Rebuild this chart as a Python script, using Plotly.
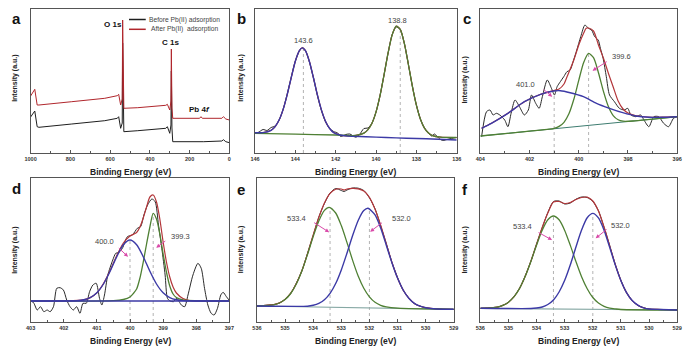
import plotly.graph_objects as go

W, H = 693, 355
FONT = "Liberation Sans, Arial, Helvetica, sans-serif"

# ---------------- Panel a: survey spectra ----------------
a_be_before = [1000, 992, 979, 967, 958, 793, 627, 564, 557, 547, 539, 537, 535, 531, 461, 320, 312, 300, 294, 292, 289, 285, 129, 38, 30, 18, 0]
a_int_before = [36, 38, 42, 26.3, 25.7, 29, 32.3, 34.7, 36.3, 24.7, 30, 110, 40, 21.3, 22.3, 24.7, 26.3, 19.7, 28, 82, 25, 11.3, 11.3, 12, 13.3, 11.3, 10.3]
a_be_after = [1000, 992, 979, 967, 958, 793, 627, 564, 557, 547, 539, 537, 535, 531, 461, 320, 312, 300, 294, 292, 289, 285, 150, 143, 136, 38, 30, 18, 0]
a_int_after = [57, 59.7, 63.7, 48, 48, 51.3, 54.7, 57.3, 58.7, 48, 54, 133, 62, 44.7, 45.3, 47.7, 48.7, 43, 52, 104, 45, 34.7, 34.7, 36.3, 34.7, 34.7, 36.3, 34, 33]
a_peak_names = ["<b>O 1s</b>", "<b>C 1s</b>", "<b>Pb 4<i>f</i></b>"]
a_peak_x = [585, 295, 150]
a_peak_y = [128, 110, 43]
a_legend = ["Before Pb(II) adsorption", "After Pb(II)  adsorption"]

# ---------------- Panel b: Pb 4f ----------------
b_blue_x = [146.0, 145.6, 145.2, 145.0, 144.8, 144.6, 144.4, 144.2, 144.0, 143.8, 143.65, 143.5, 143.3, 143.1, 142.9, 142.7, 142.5, 142.3, 142.1, 141.8, 141.4, 140.5, 139.5, 138.5, 137.5, 136.0]
b_blue_y = [20.3, 20.4, 22.7, 26.4, 33.2, 43.9, 58.7, 75.7, 91.8, 102.4, 105.1, 102.3, 91.3, 75.0, 57.6, 42.6, 31.5, 24.5, 20.4, 18.0, 16.9, 16.3, 15.5, 14.8, 14.2, 13.0]
b_green_x = [146.0, 144.0, 142.0, 141.0, 140.6, 140.4, 140.2, 140.0, 139.8, 139.6, 139.4, 139.2, 139.0, 138.8, 138.6, 138.4, 138.2, 138.0, 137.8, 137.6, 137.4, 137.2, 136.8, 136.0]
b_green_y = [19.7, 18.9, 18.0, 17.6, 19.9, 23.3, 29.8, 41.1, 57.6, 78.4, 100.3, 118.1, 126.8, 123.7, 109.8, 89.0, 66.9, 47.8, 33.8, 24.9, 20.0, 17.4, 15.8, 15.5]
b_red_x = [146.0, 145.6, 145.2, 145.0, 144.8, 144.6, 144.4, 144.2, 144.0, 143.8, 143.65, 143.5, 143.3, 143.1, 142.9, 142.7, 142.5, 142.3, 142.1, 141.8, 141.4, 141.0, 140.6, 140.4, 140.2, 140.0, 139.8, 139.6, 139.4, 139.2, 139.0, 138.8, 138.6, 138.4, 138.2, 138.0, 137.8, 137.6, 137.4, 137.2, 136.8, 136.0]
b_red_y = [20.3, 20.4, 22.7, 26.4, 33.2, 43.9, 58.7, 75.7, 91.8, 102.4, 105.1, 102.3, 91.3, 75.0, 57.6, 42.6, 31.5, 24.5, 20.4, 18.0, 17.0, 17.6, 19.9, 23.3, 29.8, 41.1, 57.6, 78.4, 100.3, 118.1, 126.8, 123.7, 109.8, 89.0, 66.9, 47.8, 33.8, 24.9, 20.0, 17.4, 15.8, 15.5]
b_raw_x = [146.0, 145.85, 145.6, 145.4, 145.2, 145.0, 144.8, 144.6, 144.4, 144.2, 144.0, 143.8, 143.65, 143.5, 143.3, 143.1, 142.9, 142.7, 142.5, 142.3, 142.1, 141.9, 141.75, 141.5, 141.3, 141.0, 140.8, 140.6, 140.4, 140.2, 140.0, 139.8, 139.6, 139.4, 139.2, 139.0, 138.8, 138.6, 138.4, 138.2, 138.0, 137.8, 137.6, 137.4, 137.25, 137.1, 136.9, 136.7, 136.4, 136.0]
b_raw_y = [20.5, 20.5, 23.5, 22.5, 25.5, 27.0, 33.0, 44.0, 59.0, 76.0, 92.0, 102.0, 105.5, 102.5, 91.0, 75.0, 57.0, 42.0, 31.0, 24.5, 21.5, 20.0, 16.5, 18.5, 19.0, 15.8, 19.0, 24.5, 25.0, 30.0, 41.0, 57.5, 78.5, 100.0, 118.5, 126.0, 123.5, 110.0, 89.0, 67.0, 48.0, 34.0, 25.0, 20.0, 17.0, 19.0, 15.0, 12.5, 14.0, 15.5]
b_ref_x = [143.6, 138.8]
b_ref_top = [105, 126]
b_lab = ["143.6", "138.8"]
b_lab_x = [143.62, 138.93]
b_lab_y = [112.3, 132]

# ---------------- Panel c: N 1s before ----------------
c_base_x = [404.0, 396.0]
c_base_y = [17.0, 36.3]
c_green_x = [404.0, 402.0, 401.2, 401.0, 400.8, 400.6, 400.4, 400.2, 400.0, 399.8, 399.6, 399.4, 399.2, 399.0, 398.8, 398.6, 398.4, 398.2, 397.8, 396.0]
c_green_y = [17.0, 21.8, 23.8, 24.7, 26.6, 30.7, 39.2, 53.7, 72.7, 90.5, 99.6, 95.3, 80.3, 61.9, 46.7, 37.4, 33.2, 31.8, 32.0, 36.3]
c_blue_x = [403.95, 403.55, 402.88, 402.21, 401.55, 401.01, 400.75, 400.35, 399.81, 399.28, 398.75, 398.21, 397.68, 397.15, 396.61, 396.01]
c_blue_y = [24.7, 29.7, 39.7, 51.3, 58.7, 62.0, 62.3, 60.3, 56.3, 49.7, 44.7, 40.3, 37.0, 35.7, 35.7, 36.3]
c_red_x = [403.95, 403.55, 402.88, 402.21, 401.55, 401.01, 400.8, 400.6, 400.48, 400.2, 400.0, 399.8, 399.7, 399.6, 399.4, 399.2, 399.0, 398.8, 398.6, 398.4, 398.2, 398.0, 397.7, 397.2, 396.6, 396.01]
c_red_y = [24.7, 29.7, 39.7, 51.3, 58.7, 62.5, 64.0, 69.0, 76.0, 93.0, 108.0, 120.0, 124.7, 125.0, 122.0, 108.0, 95.0, 80.0, 66.0, 52.0, 44.0, 40.0, 37.5, 36.0, 35.8, 36.3]
c_raw_x = [403.95, 403.75, 403.61, 403.48, 403.35, 403.21, 403.01, 402.88, 402.75, 402.59, 402.41, 402.21, 402.05, 401.92, 401.75, 401.61, 401.48, 401.28, 401.11, 400.99, 400.88, 400.75, 400.61, 400.48, 400.35, 400.21, 400.08, 399.92, 399.75, 399.61, 399.48, 399.35, 399.21, 399.12, 399.01, 398.88, 398.75, 398.55, 398.35, 398.15, 398.01, 397.88, 397.68, 397.48, 397.35, 397.15, 396.95, 396.75, 396.55, 396.35, 396.15, 396.01]
c_raw_y = [16.3, 41.3, 43.0, 38.0, 39.7, 38.0, 33.0, 26.3, 39.7, 53.0, 46.3, 38.0, 43.0, 58.0, 49.7, 44.7, 56.3, 73.0, 64.7, 58.0, 66.3, 71.3, 76.3, 81.3, 83.0, 93.0, 103.0, 116.3, 128.0, 124.7, 123.0, 116.3, 113.0, 104.7, 94.7, 76.3, 58.0, 51.3, 44.7, 43.0, 44.7, 38.0, 36.3, 38.0, 33.0, 26.3, 36.3, 36.3, 29.7, 26.3, 34.7, 36.3]
c_ref_x = [401.0, 399.6]
c_ref_top = [60, 99.6]
c_lab = ["401.0", "399.6"]
c_lab_x = [402.15, 398.28]
c_lab_y = [68, 96.3]
c_arrow_x = [401.08, 399.44]
c_arrow_y = [56.3, 82.3]
c_arrow_dx = [-10, 15.7]
c_arrow_dy = [-8.4, -10]

# ---------------- Panel d: N 1s after ----------------
d_base_x = [403.0, 397.0]
d_base_y = [21.0, 21.0]
d_blue_x = [403.0, 402.0, 401.8, 401.6, 401.4, 401.2, 401.0, 400.8, 400.6, 400.4, 400.2, 400.0, 399.8, 399.6, 399.4, 399.2, 399.0, 398.8, 398.6, 398.4, 398.2, 398.0, 397.0]
d_blue_y = [21.0, 21.0, 21.1, 21.4, 22.2, 24.4, 29.2, 38.0, 50.7, 65.3, 77.3, 82.0, 77.3, 65.3, 50.7, 38.0, 29.2, 24.4, 22.2, 21.4, 21.1, 21.0, 21.0]
d_green_x = [403.0, 400.5, 400.2, 400.0, 399.9, 399.8, 399.7, 399.6, 399.5, 399.4, 399.3, 399.2, 399.1, 399.0, 398.9, 398.8, 398.7, 398.6, 398.4, 398.0, 397.0]
d_green_y = [21.0, 21.3, 22.5, 25.0, 28.5, 33.0, 44.0, 60.0, 78.0, 95.0, 108.7, 103.0, 88.0, 68.0, 50.0, 36.0, 28.0, 24.5, 22.0, 21.2, 21.0]
d_red_x = [403.0, 401.4, 401.2, 401.0, 400.8, 400.6, 400.4, 400.2, 400.0, 399.8, 399.7, 399.6, 399.5, 399.4, 399.3, 399.2, 399.1, 399.0, 398.9, 398.8, 398.7, 398.6, 398.4, 398.2, 398.0, 397.0]
d_red_y = [21.0, 22.2, 24.4, 29.2, 38.5, 51.5, 66.5, 79.0, 86.0, 89.5, 95.0, 104.0, 115.0, 125.0, 127.0, 120.0, 103.0, 80.0, 60.0, 45.0, 35.0, 29.0, 23.5, 21.5, 21.0, 21.0]
d_raw_x = [403.0, 402.9, 402.8, 402.7, 402.6, 402.5, 402.41, 402.31, 402.21, 402.11, 402.01, 401.91, 401.81, 401.71, 401.61, 401.51, 401.42, 401.32, 401.22, 401.12, 401.02, 400.92, 400.85, 400.77, 400.67, 400.52, 400.43, 400.33, 400.23, 400.08, 399.93, 399.78, 399.68, 399.58, 399.47, 399.34, 399.24, 399.14, 399.04, 398.94, 398.87, 398.79, 398.69, 398.59, 398.45, 398.35, 398.25, 398.10, 397.95, 397.85, 397.75, 397.65, 397.55, 397.46, 397.36, 397.26, 397.19, 397.09, 397.01]
d_raw_y = [22.0, 18.7, 12.0, 15.3, 10.3, 12.0, 10.3, 15.3, 33.7, 34.3, 32.0, 22.0, 15.3, 12.0, 15.3, 8.7, 18.7, 18.7, 30.3, 37.0, 38.7, 23.7, 17.0, 27.0, 47.0, 62.0, 68.7, 69.7, 73.7, 85.3, 87.0, 93.7, 95.3, 107.0, 117.0, 123.0, 120.3, 97.0, 73.7, 47.0, 23.7, 21.0, 20.3, 23.7, 17.0, 15.3, 27.0, 47.0, 58.7, 53.7, 33.7, 17.0, 8.7, 7.0, 13.7, 27.0, 29.7, 25.3, 22.0]
d_ref_x = [400.0, 399.3]
d_ref_top = [82, 108.7]
d_lab = ["400.0", "399.3"]
d_lab_x = [400.77, 398.49]
d_lab_y = [80.3, 85.3]
d_arrow_x = [400.06, 399.21]
d_arrow_y = [65.3, 74.3]
d_arrow_dx = [-10.7, 10.6]
d_arrow_dy = [-10, -7.7]

# ---------------- Panel e: O 1s before ----------------
e_base_x = [536.0, 529.0]
e_base_y = [16.0, 12.7]
e_green_x = [536.0, 535.4, 535.2, 535.0, 534.8, 534.6, 534.4, 534.2, 534.0, 533.8, 533.6, 533.43, 533.2, 533.0, 532.8, 532.6, 532.4, 532.2, 532.0, 531.8, 531.6, 531.4, 531.0, 529.0]
e_green_y = [16.0, 17.2, 19.0, 22.4, 28.5, 38.0, 51.2, 67.7, 85.4, 101.0, 111.6, 114.7, 109.0, 96.4, 79.6, 61.9, 46.0, 33.8, 25.2, 19.7, 16.7, 15.1, 13.8, 12.7]
e_blue_x = [536.0, 534.2, 534.0, 533.8, 533.6, 533.4, 533.2, 533.0, 532.8, 532.6, 532.4, 532.2, 532.05, 531.8, 531.6, 531.4, 531.2, 531.0, 530.8, 530.6, 530.4, 530.2, 530.0, 529.6, 529.0]
e_blue_y = [16.0, 15.8, 16.7, 18.6, 22.3, 28.7, 38.5, 52.1, 68.7, 86.2, 101.5, 111.4, 113.7, 107.1, 93.9, 76.8, 59.3, 43.9, 32.0, 23.8, 18.6, 15.8, 14.3, 13.0, 12.7]
e_env_x = [536.0, 535.4, 535.2, 535.0, 534.8, 534.6, 534.4, 534.2, 534.0, 533.8, 533.6, 533.4, 533.2, 533.0, 532.9, 532.8, 532.6, 532.4, 532.2, 532.0, 531.8, 531.6, 531.4, 531.2, 531.0, 530.8, 530.6, 530.4, 530.2, 530.0, 529.6, 529.0]
e_red_y = [16.0, 17.3, 19.1, 22.6, 28.8, 38.5, 51.5, 68.4, 87.0, 104.6, 119.0, 128.6, 132.8, 133.0, 132.0, 133.0, 133.6, 133.2, 131.0, 124.7, 112.8, 96.7, 78.1, 59.8, 44.1, 32.0, 23.8, 18.6, 15.8, 14.3, 13.0, 12.7]
e_raw_y = [16.0, 17.5, 19.0, 22.8, 28.5, 38.8, 51.2, 68.8, 86.5, 104.9, 118.5, 129.0, 133.5, 131.5, 130.5, 132.0, 134.0, 133.8, 131.5, 124.2, 113.2, 96.2, 78.5, 59.5, 44.4, 31.7, 24.1, 18.4, 16.0, 14.1, 13.2, 12.6]
e_ref_x = [533.4, 532.0]
e_ref_top = [114.7, 113.5]
e_lab = ["533.4", "532.0"]
e_lab_x = [534.6, 530.87]
e_lab_y = [103.7, 103.7]
e_arrow_x = [533.43, 531.975]
e_arrow_y = [89.7, 90.3]
e_arrow_dx = [-16.6, 13.3]
e_arrow_dy = [-10.6, -10]

# ---------------- Panel f: O 1s after ----------------
f_base_x = [536.0, 529.0]
f_base_y = [13.7, 12.0]
f_green_x = [536.0, 535.6, 535.4, 535.2, 535.0, 534.8, 534.6, 534.4, 534.2, 534.0, 533.8, 533.6, 533.4, 533.2, 533.0, 532.8, 532.6, 532.4, 532.2, 532.0, 531.8, 531.6, 531.4, 531.2, 531.0, 529.0]
f_green_y = [13.7, 14.2, 14.9, 16.6, 19.8, 25.3, 33.9, 45.9, 60.8, 77.0, 91.8, 102.3, 106.0, 102.2, 91.6, 76.6, 60.4, 45.3, 33.3, 24.5, 19.0, 15.7, 13.9, 13.1, 12.5, 12.0]
f_blue_x = [536.0, 534.2, 534.0, 533.8, 533.6, 533.4, 533.2, 533.0, 532.8, 532.6, 532.4, 532.2, 532.0, 531.8, 531.6, 531.4, 531.2, 531.0, 530.8, 530.6, 530.4, 530.2, 530.0, 529.6, 529.0]
f_blue_y = [13.7, 13.5, 14.0, 15.0, 17.5, 22.0, 30.0, 41.7, 57.2, 75.0, 91.9, 104.2, 108.6, 104.1, 91.8, 74.7, 56.9, 41.3, 29.4, 21.4, 16.8, 14.2, 13.0, 12.5, 12.0]
f_env_x = [536.0, 535.6, 535.4, 535.2, 535.0, 534.8, 534.6, 534.4, 534.2, 534.0, 533.8, 533.6, 533.4, 533.2, 533.0, 532.8, 532.6, 532.4, 532.2, 532.0, 531.8, 531.6, 531.4, 531.2, 531.0, 530.8, 530.6, 530.4, 530.2, 530.0, 529.6, 529.0]
f_red_y = [13.7, 14.2, 14.9, 16.6, 19.8, 25.4, 34.0, 46.1, 61.1, 77.8, 94.5, 109.0, 120.0, 120.5, 118.5, 119.5, 122.5, 124.5, 124.8, 121.0, 111.0, 95.0, 76.2, 57.5, 41.3, 29.4, 21.4, 16.8, 14.2, 13.0, 12.5, 12.0]
f_raw_y = [13.7, 14.3, 14.8, 16.7, 19.6, 25.6, 33.8, 46.4, 60.8, 78.1, 94.2, 109.5, 120.5, 121.0, 118.0, 119.0, 122.8, 125.0, 124.5, 120.6, 111.3, 94.6, 76.5, 57.2, 41.6, 29.2, 21.6, 16.6, 14.4, 12.9, 12.6, 12.0]
f_ref_x = [533.4, 532.0]
f_ref_top = [106, 108.6]
f_lab = ["533.4", "532.0"]
f_lab_x = [534.5, 531.0]
f_lab_y = [95.3, 97]
f_arrow_x = [533.45, 531.9]
f_arrow_y = [82, 83.7]
f_arrow_dx = [-15, 12.4]
f_arrow_dy = [-8.3, -10]

# ---------------- styling ----------------
C_BLACK = "#2b2b2b"
C_RED = "#b3363a"
C_GREEN = "#4f8034"
C_BLUE = "#3c3aa6"
C_TEAL = "#3e7c70"
C_BASE_E = "#86a8a4"
C_REF = "#a0a0a0"
C_ARROW = "#d94aa9"
C_AXIS = "#555555"

panel_box = {
    1: (25, 227, 9, 153),
    2: (253, 458, 9, 153),
    3: (482, 682, 9, 153),
    4: (25, 227, 178, 322),
    5: (255, 455, 178, 322),
    6: (482, 682, 178, 322),
}
panel_xrange = {1: [1000, 0], 2: [146, 136], 3: [404, 396], 4: [403, 397], 5: [536, 529], 6: [536, 529]}
panel_dtick = {1: 200, 2: 2, 3: 2, 4: 1, 5: 1, 6: 1}
panel_minor = {1: 100, 2: 1, 3: 1, 4: 0.5, 5: 0.5, 6: 0.5}
panel_letter = ["a", "b", "c", "d", "e", "f"]
letter_pos = [(11, 18), (239, 18), (468, 18), (11, 188), (239, 190), (466, 190)]
ytitle_pos = [(9, 78), (238.5, 78), (466, 80), (9, 250), (239, 250), (466, 250)]

fig = go.Figure()


def ax(i):
    return ("x" if i == 1 else f"x{i}"), ("y" if i == 1 else f"y{i}")


def line(i, x, y, color, width=1.2, shape="spline", dash=None):
    xa, ya = ax(i)
    fig.add_trace(go.Scatter(
        x=x, y=y, mode="lines", xaxis=xa, yaxis=ya, showlegend=False, hoverinfo="skip",
        line=dict(color=color, width=width, shape=shape, smoothing=0.7 if shape == "spline" else None,
                  dash=dash)))


def refs(i, xs, tops):
    rx, ry = [], []
    for xv, tv in zip(xs, tops):
        rx += [xv, xv, None]
        ry += [0, tv, None]
    line(i, rx, ry, C_REF, width=0.8, shape="linear", dash="dot")


line(1, a_be_before, a_int_before, "#1e1e1e", 1.0, "linear")
line(1, a_be_after, a_int_after, "#b0262c", 1.0, "linear")

refs(2, b_ref_x, b_ref_top)
line(2, b_raw_x, b_raw_y, C_BLACK, 1.0)
line(2, b_red_x, b_red_y, C_RED, 1.2)
line(2, b_green_x, b_green_y, C_GREEN, 1.3)
line(2, b_blue_x, b_blue_y, C_BLUE, 1.4)

refs(3, c_ref_x, c_ref_top)
line(3, c_raw_x, c_raw_y, C_BLACK, 1.0)
line(3, c_base_x, c_base_y, C_TEAL, 1.0, "linear")
line(3, c_red_x, c_red_y, C_RED, 1.2)
line(3, c_green_x, c_green_y, C_GREEN, 1.3)
line(3, c_blue_x, c_blue_y, C_BLUE, 1.4)

refs(4, d_ref_x, d_ref_top)
line(4, d_raw_x, d_raw_y, C_BLACK, 1.0)
line(4, d_red_x, d_red_y, C_RED, 1.2)
line(4, d_green_x, d_green_y, C_GREEN, 1.3)
line(4, d_blue_x, d_blue_y, C_BLUE, 1.4)
line(4, d_base_x, d_base_y, C_BLUE, 1.4, "linear")

refs(5, e_ref_x, e_ref_top)
line(5, e_base_x, e_base_y, C_BASE_E, 1.2, "linear")
line(5, e_env_x, e_raw_y, C_BLACK, 1.0)
line(5, e_env_x, e_red_y, C_RED, 1.2)
line(5, e_green_x, e_green_y, C_GREEN, 1.3)
line(5, e_blue_x, e_blue_y, C_BLUE, 1.4)

refs(6, f_ref_x, f_ref_top)
line(6, f_base_x, f_base_y, C_BASE_E, 1.2, "linear")
line(6, f_env_x, f_raw_y, C_BLACK, 1.0)
line(6, f_env_x, f_red_y, C_RED, 1.2)
line(6, f_green_x, f_green_y, C_GREEN, 1.3)
line(6, f_blue_x, f_blue_y, C_BLUE, 1.4)

annotations = []
shapes = []
layout = dict(
    width=W, height=H, margin=dict(l=0, r=0, t=0, b=0),
    paper_bgcolor="white", plot_bgcolor="white",
    font=dict(family=FONT, color="#222"), showlegend=False,
)

for i in range(1, 7):
    l, r, t, b = panel_box[i]
    xk = "xaxis" if i == 1 else f"xaxis{i}"
    yk = "yaxis" if i == 1 else f"yaxis{i}"
    xa, ya = ax(i)
    layout[xk] = dict(
        domain=[l / W, r / W], anchor=ya, range=panel_xrange[i], dtick=panel_dtick[i],
        showline=True, mirror=True, linecolor=C_AXIS, linewidth=1,
        showgrid=False, zeroline=False, ticks="inside", ticklen=3, tickwidth=1, tickcolor=C_AXIS,
        tickfont=dict(size=5.5, color="#333", weight="bold"),
        minor=dict(dtick=panel_minor[i], ticks="inside", ticklen=2, tickcolor=C_AXIS, showgrid=False),
    )
    layout[yk] = dict(
        domain=[1 - b / H, 1 - t / H], anchor=xa, range=[0, 144],
        showline=True, mirror=True, linecolor=C_AXIS, linewidth=1,
        showgrid=False, zeroline=False, showticklabels=False, ticks="",
    )
    lx, ly = letter_pos[i - 1]
    annotations.append(dict(xref="paper", yref="paper", x=lx / W, y=1 - ly / H, text=f"<b>{panel_letter[i-1]}</b>",
                            showarrow=False, font=dict(size=15, color="#111"), xanchor="center", yanchor="middle"))
    annotations.append(dict(xref="paper", yref="paper", x=(l + r) / 2 / W, y=1 - (b + 19) / H,
                            text="<b>Binding Energy (eV)</b>", showarrow=False,
                            font=dict(size=8.5, color="#222"), xanchor="center", yanchor="middle"))
    tx, ty = ytitle_pos[i - 1]
    annotations.append(dict(xref="paper", yref="paper", x=tx / W, y=1 - ty / H, text="<b>Intensity (a.u.)</b>",
                            showarrow=False, textangle=-90, font=dict(size=7, color="#222"),
                            xanchor="center", yanchor="middle"))

for name, xv, yv in zip(a_peak_names, a_peak_x, a_peak_y):
    annotations.append(dict(xref="x", yref="y", x=xv, y=yv, text=name, showarrow=False,
                            font=dict(size=8, color="#111"), xanchor="center", yanchor="middle"))

leg_rows = [(19.5, "#1e1e1e", 143), (29.3, "#b0262c", 145.5)]
for (py, col, tx0), txt in zip(leg_rows, a_legend):
    shapes.append(dict(type="line", xref="paper", yref="paper", x0=125 / W, x1=142 / W,
                       y0=1 - py / H, y1=1 - py / H, line=dict(color=col, width=1.5)))
    annotations.append(dict(xref="paper", yref="paper", x=tx0 / W, y=1 - py / H, text=txt, showarrow=False,
                            font=dict(size=6.7, color="#444"), xanchor="left", yanchor="middle"))

for i, labs, lxs, lys in [(2, b_lab, b_lab_x, b_lab_y), (3, c_lab, c_lab_x, c_lab_y),
                          (4, d_lab, d_lab_x, d_lab_y), (5, e_lab, e_lab_x, e_lab_y),
                          (6, f_lab, f_lab_x, f_lab_y)]:
    xa, ya = ax(i)
    for t_, xv, yv in zip(labs, lxs, lys):
        annotations.append(dict(xref=xa, yref=ya, x=xv, y=yv, text=t_, showarrow=False,
                                font=dict(size=7.5, color="#444"), xanchor="center", yanchor="middle"))

for i, axs, ays, dxs, dys in [(3, c_arrow_x, c_arrow_y, c_arrow_dx, c_arrow_dy),
                              (4, d_arrow_x, d_arrow_y, d_arrow_dx, d_arrow_dy),
                              (5, e_arrow_x, e_arrow_y, e_arrow_dx, e_arrow_dy),
                              (6, f_arrow_x, f_arrow_y, f_arrow_dx, f_arrow_dy)]:
    xa, ya = ax(i)
    for xv, yv, dx, dy in zip(axs, ays, dxs, dys):
        annotations.append(dict(xref=xa, yref=ya, x=xv, y=yv, text="", showarrow=True, ax=dx, ay=dy,
                                arrowcolor=C_ARROW, arrowhead=2, arrowsize=0.8, arrowwidth=1))

layout["annotations"] = annotations
layout["shapes"] = shapes
fig.update_layout(**layout)
fig.write_html("out.html", config={"displayModeBar": False, "staticPlot": True},
               post_script="document.body.style.margin='0';document.body.style.overflow='hidden';")
